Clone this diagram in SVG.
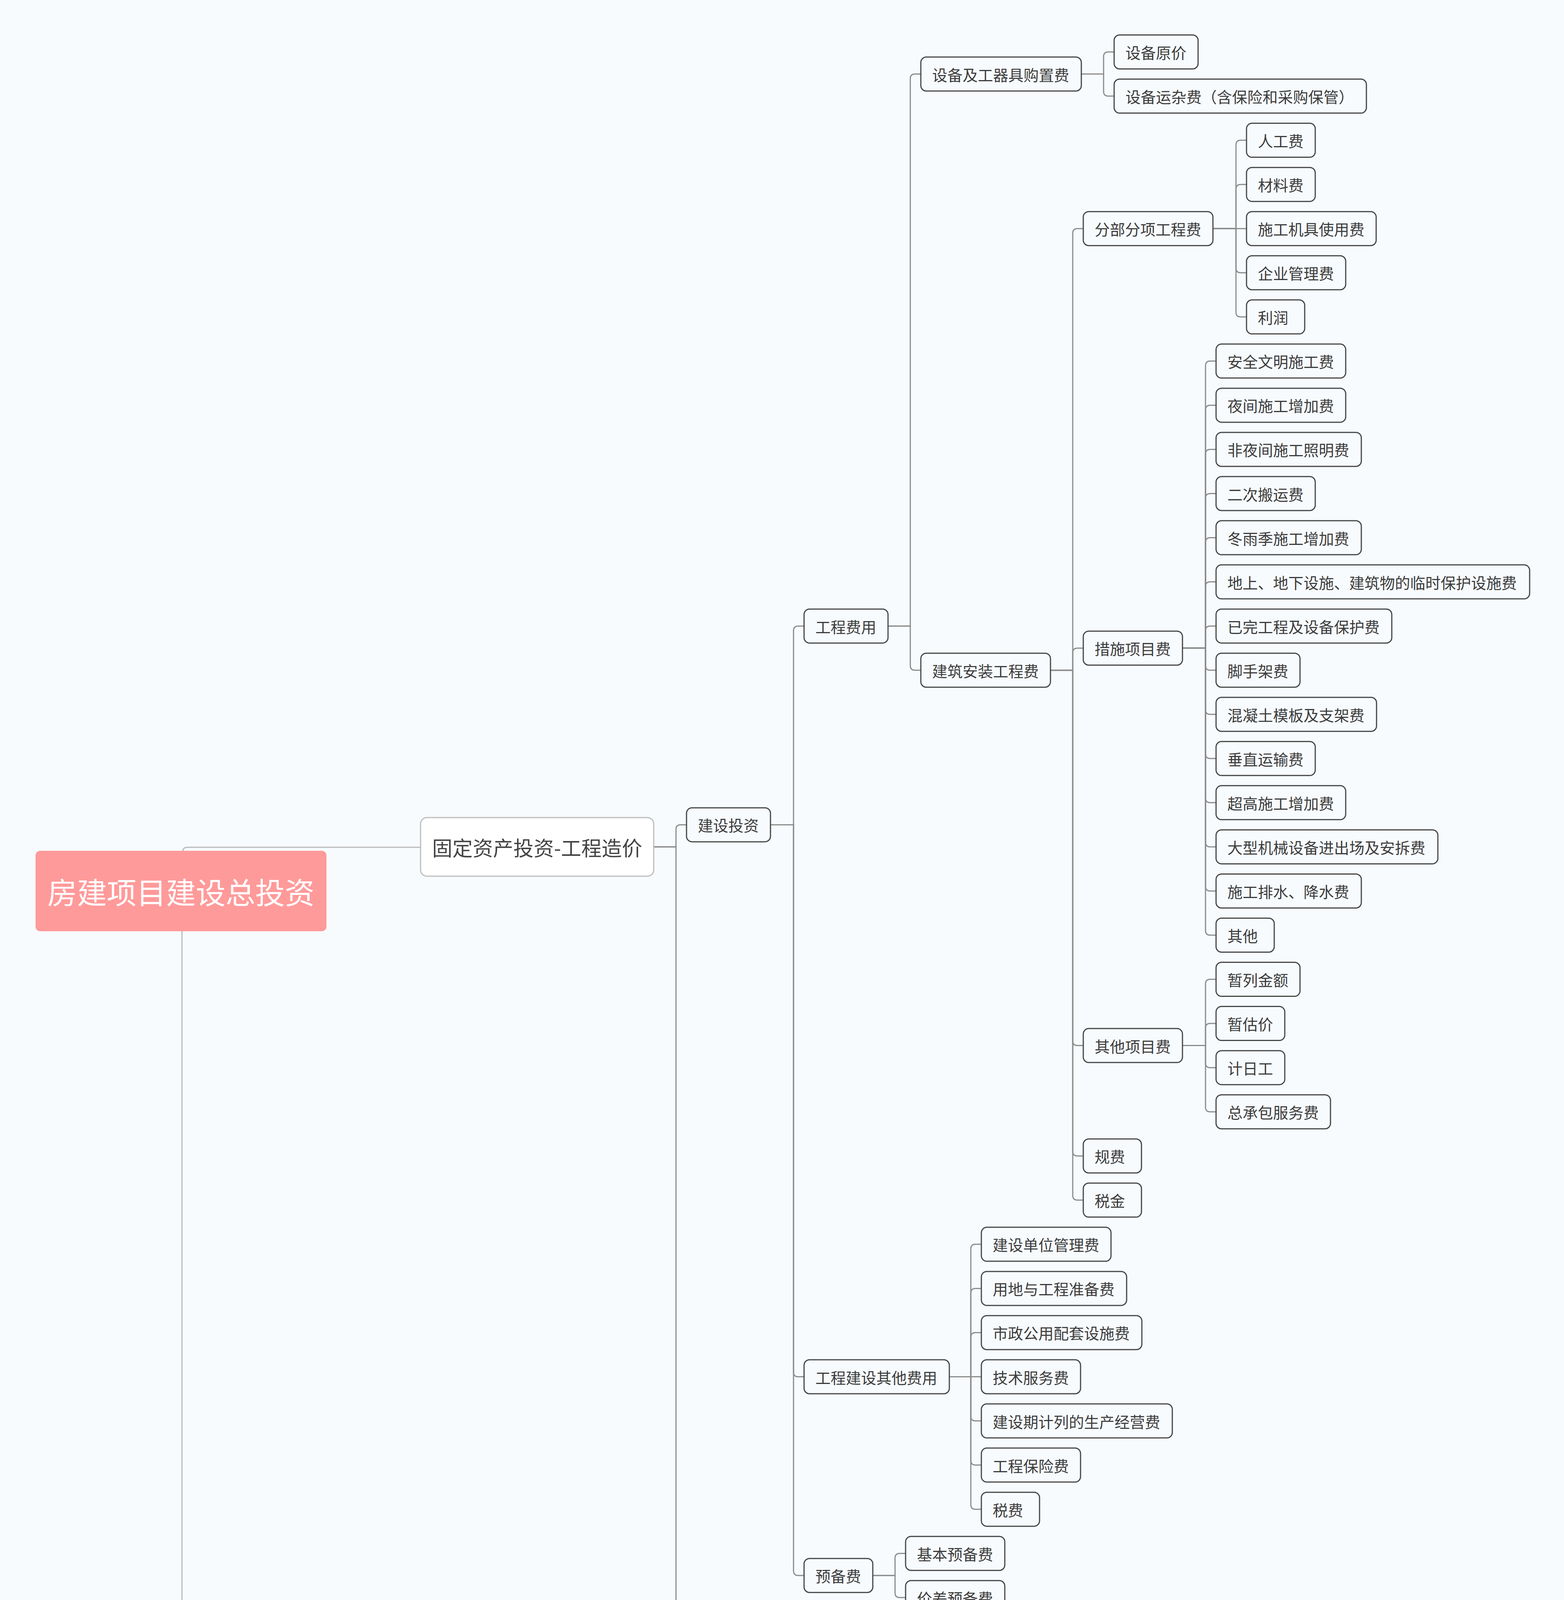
<svg xmlns="http://www.w3.org/2000/svg" width="4005" height="4563" viewBox="0 0 4005 4563">
<style>
.bg{fill:#F7FBFE}
.n rect{fill:#F7FBFE;stroke:#474747;stroke-width:3}
.n text{font-family:"Noto Sans CJK SC","Noto Sans",sans-serif;font-size:39px;fill:#3c3c3c;dominant-baseline:central}
.l1 rect{fill:#FFFFFF;stroke:#BDBDBD;stroke-width:3}
.l1 text{font-family:"Noto Sans CJK SC","Noto Sans",sans-serif;font-size:52px;fill:#444444;dominant-baseline:central;text-anchor:middle}
.root rect{fill:#FF9A9A;stroke:none}
.root text{font-family:"Noto Sans CJK SC","Noto Sans",sans-serif;font-size:76px;fill:#FFFFFF;dominant-baseline:central;text-anchor:middle}
#connectors path{fill:none;stroke:#8C8C8C;stroke-width:3}
#connectors path.c0{stroke:#BBBBBB;stroke-width:3}
</style>
<rect class="bg" x="0" y="0" width="4005" height="4563"/>
<g id="connectors">
<path class="c0" d="M468,2200 V2181 Q468,2169 480,2169 H1077"/>
<path class="c0" d="M466,2370 V4387 Q466,4399 478,4399 H1077"/>
<path d="M1674,2168 H1731 V2123.4 Q1731,2111.4 1743,2111.4 H1758"/>
<path d="M1674,2168 H1731 V4190.8 Q1731,4202.8 1743,4202.8 H1758"/>
<path d="M1973,2111.4 H2032 V1614.65 Q2032,1602.65 2044,1602.65 H2059"/>
<path d="M1973,2111.4 H2032 V3512.5 Q2032,3524.5 2044,3524.5 H2059"/>
<path d="M1973,2111.4 H2032 V4021.2 Q2032,4033.2 2044,4033.2 H2059"/>
<path d="M2274,1602.65 H2331 V201.5 Q2331,189.5 2343,189.5 H2358"/>
<path d="M2274,1602.65 H2331 V1703.7 Q2331,1715.7 2343,1715.7 H2358"/>
<path d="M2769,189.5 H2826 V145 Q2826,133 2838,133 H2853"/>
<path d="M2769,189.5 H2826 V234.05 Q2826,246.05 2838,246.05 H2853"/>
<path d="M2690,1715.7 H2747 V597.2 Q2747,585.2 2759,585.2 H2774"/>
<path d="M2690,1715.7 H2747 V1671.2 Q2747,1659.2 2759,1659.2 H2774"/>
<path d="M2690,1715.7 H2747 V2664.6 Q2747,2676.6 2759,2676.6 H2774"/>
<path d="M2690,1715.7 H2747 V2947.25 Q2747,2959.25 2759,2959.25 H2774"/>
<path d="M2690,1715.7 H2747 V3060.3 Q2747,3072.3 2759,3072.3 H2774"/>
<path d="M3106,585.2 H3165 V371.1 Q3165,359.1 3177,359.1 H3192"/>
<path d="M3106,585.2 H3165 V484.15 Q3165,472.15 3177,472.15 H3192"/>
<path d="M3106,585.2 H3192"/>
<path d="M3106,585.2 H3165 V686.25 Q3165,698.25 3177,698.25 H3192"/>
<path d="M3106,585.2 H3165 V799.3 Q3165,811.3 3177,811.3 H3192"/>
<path d="M3028,1659.2 H3087 V936.35 Q3087,924.35 3099,924.35 H3114"/>
<path d="M3028,1659.2 H3087 V1049.4 Q3087,1037.4 3099,1037.4 H3114"/>
<path d="M3028,1659.2 H3087 V1162.45 Q3087,1150.45 3099,1150.45 H3114"/>
<path d="M3028,1659.2 H3087 V1275.5 Q3087,1263.5 3099,1263.5 H3114"/>
<path d="M3028,1659.2 H3087 V1388.55 Q3087,1376.55 3099,1376.55 H3114"/>
<path d="M3028,1659.2 H3087 V1501.6 Q3087,1489.6 3099,1489.6 H3114"/>
<path d="M3028,1659.2 H3087 V1614.65 Q3087,1602.65 3099,1602.65 H3114"/>
<path d="M3028,1659.2 H3087 V1703.7 Q3087,1715.7 3099,1715.7 H3114"/>
<path d="M3028,1659.2 H3087 V1816.75 Q3087,1828.75 3099,1828.75 H3114"/>
<path d="M3028,1659.2 H3087 V1929.8 Q3087,1941.8 3099,1941.8 H3114"/>
<path d="M3028,1659.2 H3087 V2042.85 Q3087,2054.85 3099,2054.85 H3114"/>
<path d="M3028,1659.2 H3087 V2155.9 Q3087,2167.9 3099,2167.9 H3114"/>
<path d="M3028,1659.2 H3087 V2268.95 Q3087,2280.95 3099,2280.95 H3114"/>
<path d="M3028,1659.2 H3087 V2382 Q3087,2394 3099,2394 H3114"/>
<path d="M3028,2676.6 H3087 V2519.05 Q3087,2507.05 3099,2507.05 H3114"/>
<path d="M3028,2676.6 H3087 V2632.1 Q3087,2620.1 3099,2620.1 H3114"/>
<path d="M3028,2676.6 H3087 V2721.15 Q3087,2733.15 3099,2733.15 H3114"/>
<path d="M3028,2676.6 H3087 V2834.2 Q3087,2846.2 3099,2846.2 H3114"/>
<path d="M2431,3524.5 H2486 V3197.35 Q2486,3185.35 2498,3185.35 H2513"/>
<path d="M2431,3524.5 H2486 V3310.4 Q2486,3298.4 2498,3298.4 H2513"/>
<path d="M2431,3524.5 H2486 V3423.45 Q2486,3411.45 2498,3411.45 H2513"/>
<path d="M2431,3524.5 H2513"/>
<path d="M2431,3524.5 H2486 V3625.55 Q2486,3637.55 2498,3637.55 H2513"/>
<path d="M2431,3524.5 H2486 V3738.6 Q2486,3750.6 2498,3750.6 H2513"/>
<path d="M2431,3524.5 H2486 V3851.65 Q2486,3863.65 2498,3863.65 H2513"/>
<path d="M2235,4033.2 H2292 V3988.7 Q2292,3976.7 2304,3976.7 H2319"/>
<path d="M2235,4033.2 H2292 V4077.75 Q2292,4089.75 2304,4089.75 H2319"/>
</g>
<g id="root" class="root"><rect x="91" y="2178" width="745" height="206" rx="12"/><text x="463.5" y="2281">房建项目建设总投资</text></g>
<g id="n-gdzc" class="l1"><rect x="1077" y="2093" width="597" height="150" rx="16"/><text x="1375.5" y="2168">固定资产投资-工程造价</text></g>
<g id="n-ldzc" class="l1"><rect x="1077" y="4323" width="597" height="148" rx="16"/><text x="1375.5" y="4397">流动资产投资-流动资金</text></g>
<g id="n1" class="n"><rect x="1758" y="2067.9" width="215" height="87" rx="14"/><text x="1787" y="2111.4">建设投资</text></g>
<g id="n2" class="n"><rect x="1758" y="4159.3" width="254" height="87" rx="14"/><text x="1787" y="4202.8">建设期利息</text></g>
<g id="n3" class="n"><rect x="2059" y="1559.15" width="215" height="87" rx="14"/><text x="2088" y="1602.65">工程费用</text></g>
<g id="n4" class="n"><rect x="2059" y="3481" width="372" height="87" rx="14"/><text x="2088" y="3524.5">工程建设其他费用</text></g>
<g id="n5" class="n"><rect x="2059" y="3989.7" width="176" height="87" rx="14"/><text x="2088" y="4033.2">预备费</text></g>
<g id="n6" class="n"><rect x="2358" y="146" width="411" height="87" rx="14"/><text x="2387" y="189.5">设备及工器具购置费</text></g>
<g id="n7" class="n"><rect x="2358" y="1672.2" width="332" height="87" rx="14"/><text x="2387" y="1715.7">建筑安装工程费</text></g>
<g id="n8" class="n"><rect x="2853" y="89.5" width="215" height="87" rx="14"/><text x="2882" y="133">设备原价</text></g>
<g id="n9" class="n"><rect x="2853" y="202.55" width="646" height="87" rx="14"/><text x="2882" y="246.05">设备运杂费（含保险和采购保管）</text></g>
<g id="n10" class="n"><rect x="2774" y="541.7" width="332" height="87" rx="14"/><text x="2803" y="585.2">分部分项工程费</text></g>
<g id="n11" class="n"><rect x="2774" y="1615.7" width="254" height="87" rx="14"/><text x="2803" y="1659.2">措施项目费</text></g>
<g id="n12" class="n"><rect x="2774" y="2633.1" width="254" height="87" rx="14"/><text x="2803" y="2676.6">其他项目费</text></g>
<g id="n13" class="n"><rect x="2774" y="2915.75" width="149" height="87" rx="14"/><text x="2803" y="2959.25">规费</text></g>
<g id="n14" class="n"><rect x="2774" y="3028.8" width="149" height="87" rx="14"/><text x="2803" y="3072.3">税金</text></g>
<g id="n15" class="n"><rect x="3192" y="315.6" width="176" height="87" rx="14"/><text x="3221" y="359.1">人工费</text></g>
<g id="n16" class="n"><rect x="3192" y="428.65" width="176" height="87" rx="14"/><text x="3221" y="472.15">材料费</text></g>
<g id="n17" class="n"><rect x="3192" y="541.7" width="332" height="87" rx="14"/><text x="3221" y="585.2">施工机具使用费</text></g>
<g id="n18" class="n"><rect x="3192" y="654.75" width="254" height="87" rx="14"/><text x="3221" y="698.25">企业管理费</text></g>
<g id="n19" class="n"><rect x="3192" y="767.8" width="149" height="87" rx="14"/><text x="3221" y="811.3">利润</text></g>
<g id="n20" class="n"><rect x="3114" y="880.85" width="332" height="87" rx="14"/><text x="3143" y="924.35">安全文明施工费</text></g>
<g id="n21" class="n"><rect x="3114" y="993.9" width="332" height="87" rx="14"/><text x="3143" y="1037.4">夜间施工增加费</text></g>
<g id="n22" class="n"><rect x="3114" y="1106.95" width="372" height="87" rx="14"/><text x="3143" y="1150.45">非夜间施工照明费</text></g>
<g id="n23" class="n"><rect x="3114" y="1220" width="254" height="87" rx="14"/><text x="3143" y="1263.5">二次搬运费</text></g>
<g id="n24" class="n"><rect x="3114" y="1333.05" width="372" height="87" rx="14"/><text x="3143" y="1376.55">冬雨季施工增加费</text></g>
<g id="n25" class="n"><rect x="3114" y="1446.1" width="803" height="87" rx="14"/><text x="3143" y="1489.6">地上、地下设施、建筑物的临时保护设施费</text></g>
<g id="n26" class="n"><rect x="3114" y="1559.15" width="450" height="87" rx="14"/><text x="3143" y="1602.65">已完工程及设备保护费</text></g>
<g id="n27" class="n"><rect x="3114" y="1672.2" width="215" height="87" rx="14"/><text x="3143" y="1715.7">脚手架费</text></g>
<g id="n28" class="n"><rect x="3114" y="1785.25" width="411" height="87" rx="14"/><text x="3143" y="1828.75">混凝土模板及支架费</text></g>
<g id="n29" class="n"><rect x="3114" y="1898.3" width="254" height="87" rx="14"/><text x="3143" y="1941.8">垂直运输费</text></g>
<g id="n30" class="n"><rect x="3114" y="2011.35" width="332" height="87" rx="14"/><text x="3143" y="2054.85">超高施工增加费</text></g>
<g id="n31" class="n"><rect x="3114" y="2124.4" width="568" height="87" rx="14"/><text x="3143" y="2167.9">大型机械设备进出场及安拆费</text></g>
<g id="n32" class="n"><rect x="3114" y="2237.45" width="372" height="87" rx="14"/><text x="3143" y="2280.95">施工排水、降水费</text></g>
<g id="n33" class="n"><rect x="3114" y="2350.5" width="149" height="87" rx="14"/><text x="3143" y="2394">其他</text></g>
<g id="n34" class="n"><rect x="3114" y="2463.55" width="215" height="87" rx="14"/><text x="3143" y="2507.05">暂列金额</text></g>
<g id="n35" class="n"><rect x="3114" y="2576.6" width="176" height="87" rx="14"/><text x="3143" y="2620.1">暂估价</text></g>
<g id="n36" class="n"><rect x="3114" y="2689.65" width="176" height="87" rx="14"/><text x="3143" y="2733.15">计日工</text></g>
<g id="n37" class="n"><rect x="3114" y="2802.7" width="293" height="87" rx="14"/><text x="3143" y="2846.2">总承包服务费</text></g>
<g id="n38" class="n"><rect x="2513" y="3141.85" width="332" height="87" rx="14"/><text x="2542" y="3185.35">建设单位管理费</text></g>
<g id="n39" class="n"><rect x="2513" y="3254.9" width="372" height="87" rx="14"/><text x="2542" y="3298.4">用地与工程准备费</text></g>
<g id="n40" class="n"><rect x="2513" y="3367.95" width="411" height="87" rx="14"/><text x="2542" y="3411.45">市政公用配套设施费</text></g>
<g id="n41" class="n"><rect x="2513" y="3481" width="254" height="87" rx="14"/><text x="2542" y="3524.5">技术服务费</text></g>
<g id="n42" class="n"><rect x="2513" y="3594.05" width="489" height="87" rx="14"/><text x="2542" y="3637.55">建设期计列的生产经营费</text></g>
<g id="n43" class="n"><rect x="2513" y="3707.1" width="254" height="87" rx="14"/><text x="2542" y="3750.6">工程保险费</text></g>
<g id="n44" class="n"><rect x="2513" y="3820.15" width="149" height="87" rx="14"/><text x="2542" y="3863.65">税费</text></g>
<g id="n45" class="n"><rect x="2319" y="3933.2" width="254" height="87" rx="14"/><text x="2348" y="3976.7">基本预备费</text></g>
<g id="n46" class="n"><rect x="2319" y="4046.25" width="254" height="87" rx="14"/><text x="2348" y="4089.75">价差预备费</text></g>
</svg>
